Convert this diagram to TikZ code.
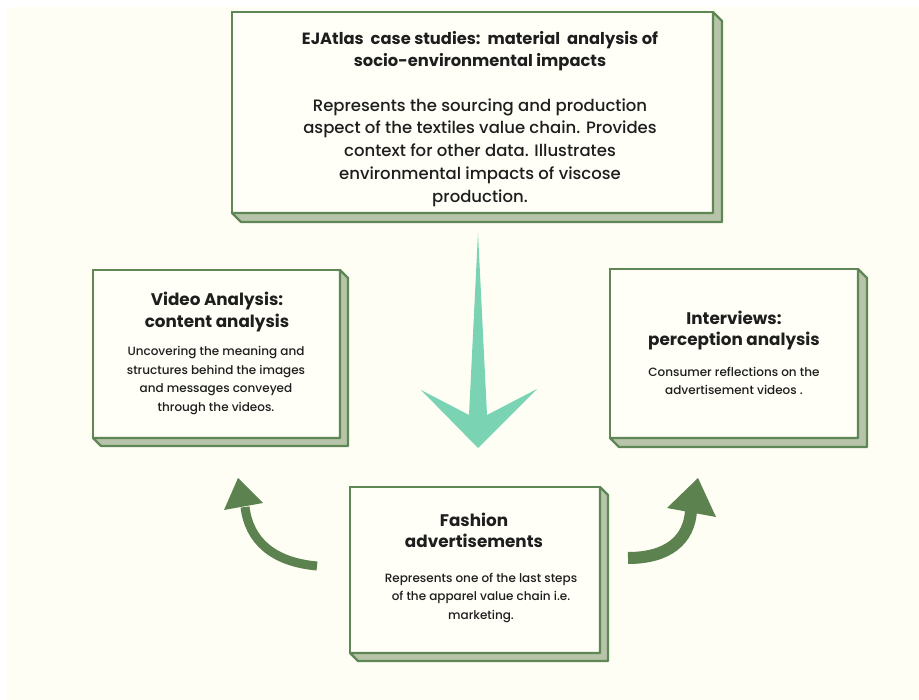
\documentclass[tikz,border=0pt]{standalone}
\usepackage{fontspec}
\setmainfont{Poppins}[UprightFont=* Medium, BoldFont=* Bold]
\usetikzlibrary{calc}
\definecolor{bgc}{HTML}{FEFEF4}
\definecolor{facec}{HTML}{FFFFF7}
\definecolor{bord}{HTML}{5F8755}
\definecolor{sidec}{HTML}{B7C4AA}
\definecolor{teal}{HTML}{7AD4B4}
\definecolor{arrg}{HTML}{5C8250}
\definecolor{txt}{HTML}{1E1E1E}
\tikzset{
  face/.style={draw=bord, line width=2.8pt, fill=facec, inner sep=0pt, outer sep=0pt},
  side/.style={draw=bord, line width=2.2pt, fill=sidec, line join=round},
  headtxt/.style={font=\bfseries\fontsize{16.8}{21.5}\selectfont, align=center, text=txt, inner sep=0pt},
  bigtxt/.style={font=\fontsize{16.5}{22.8}\selectfont, align=center, text=txt, inner sep=0pt},
  smalltxt/.style={font=\fontsize{12}{18.5}\selectfont, align=center, text=txt, inner sep=0pt},
}
\newcommand\sidepanel[2]{%
  \path[side] (#1.north east) -- ++(#2,#2) -- ($(#1.south east)+(#2,#2)$) -- ($(#1.south west)+(#2,#2)$) -- (#1.south west) -- (#1.south east) -- cycle;}
\begin{document}
\begin{tikzpicture}[x=1pt,y=-1pt]
\useasboundingbox (0,0) rectangle (919,700);
\fill[white] (0,0) rectangle (919,700);
\fill[bgc] (7,7) rectangle (919,700);

% top box
\node[face, minimum width=481pt, minimum height=201pt] (ej) at (472.5,112.5) {};
\sidepanel{ej}{9}
\node[headtxt, font=\bfseries\fontsize{16.3}{22}\selectfont] (ejh) at (480,51) {EJAtlas\ \ case studies:\ \ material\ \ analysis of\\socio-environmental impacts};
\node[bigtxt] (ejb) at (480,152.5) {Represents the sourcing and production\\aspect of the textiles value chain. Provides\\context for other data. Illustrates\\environmental impacts of viscose\\production.};

% video box
\node[face, minimum width=247pt, minimum height=168pt] (va) at (216.5,354) {};
\sidepanel{va}{8}
\node[headtxt] (vah) at (217,312) {Video Analysis:\\content analysis};
\node[smalltxt] (vab) at (216,380.5) {Uncovering the meaning and\\structures behind the images\\and messages conveyed\\through the videos.};

% interviews box
\node[face, minimum width=248pt, minimum height=169pt] (iv) at (734,353.5) {};
\sidepanel{iv}{9}
\node[headtxt] (ivh) at (734,330.5) {Interviews:\\perception analysis};
\node[smalltxt] (ivb) at (734,381) {Consumer reflections on the\\advertisement videos .};

% fashion box
\node[face, minimum width=250pt, minimum height=166pt] (fa) at (475,570) {};
\sidepanel{fa}{8}
\node[headtxt] (fah) at (474,530.5) {Fashion\\advertisements};
\node[smalltxt] (fab) at (481,597.5) {Represents one of the last steps\\of the apparel value chain i.e.\\marketing.};

% central teal arrow
\fill[teal] (478,233) -- (487,415) -- (537,389) -- (478,448) -- (421,390) -- (469,415) -- cycle;

% left curved arrow
\coordinate (lt) at (317,566);
\coordinate (lb) at (245,507);
\draw[arrg, line width=9pt] (lt) .. controls (272,562) and (249,540) .. (lb);
\fill[arrg] (238,478) -- (224,510) -- (263,503) -- cycle;

% right curved arrow
\coordinate (rt) at (628,558);
\coordinate (rb) at (691,511);
\draw[arrg, line width=12pt] (rt) .. controls (668,558) and (689,540) .. (rb);
\fill[arrg] (698,478) -- (667,508) -- (716,517) -- cycle;
\end{tikzpicture}
\end{document}
